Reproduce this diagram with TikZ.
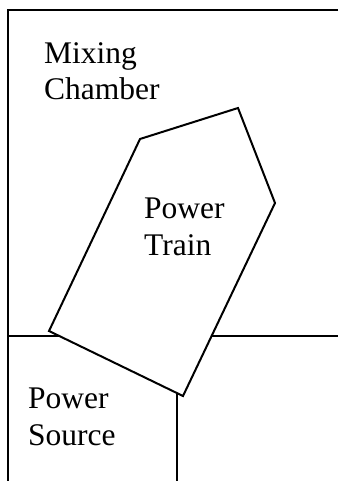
\documentclass[tikz,border=0pt]{standalone}
\usepackage{fontspec}
\setmainfont{Liberation Serif}
\begin{document}
\begin{tikzpicture}[x=1pt,y=-1pt,
  wall/.style={line width=2pt},
  label/.style={inner sep=0pt,align=left,anchor=base west,font=\fontsize{31.5}{36.8}\selectfont}]
\useasboundingbox (0,0) rectangle (338,481);
% frame and walls
\coordinate (tl) at (8,10);
\coordinate (tr) at (338,10);
\coordinate (bl) at (8,481);
\coordinate (ml) at (8,336);
\coordinate (mr) at (338,336);
\coordinate (vt) at (177,360);
\coordinate (vb) at (177,481);
\draw[wall] (tr) -- (tl) -- (bl);
\draw[wall] (ml) -- (mr);
\draw[wall] (vt) -- (vb);
% power train polygon
\coordinate (p1) at (140,139);
\coordinate (p2) at (238,108);
\coordinate (p3) at (275,203);
\coordinate (p4) at (183,396);
\coordinate (p5) at (49,331);
\filldraw[wall,fill=white,line join=miter] (p1) -- (p2) -- (p3) -- (p4) -- (p5) -- cycle;
% labels (anchored at baseline of last line)
\node[label] (mix) at (44,100) {Mixing\\Chamber};
\node[label] (train) at (144,255) {Power\\Train};
\node[label] (src) at (28,445) {Power\\Source};
\end{tikzpicture}
\end{document}
